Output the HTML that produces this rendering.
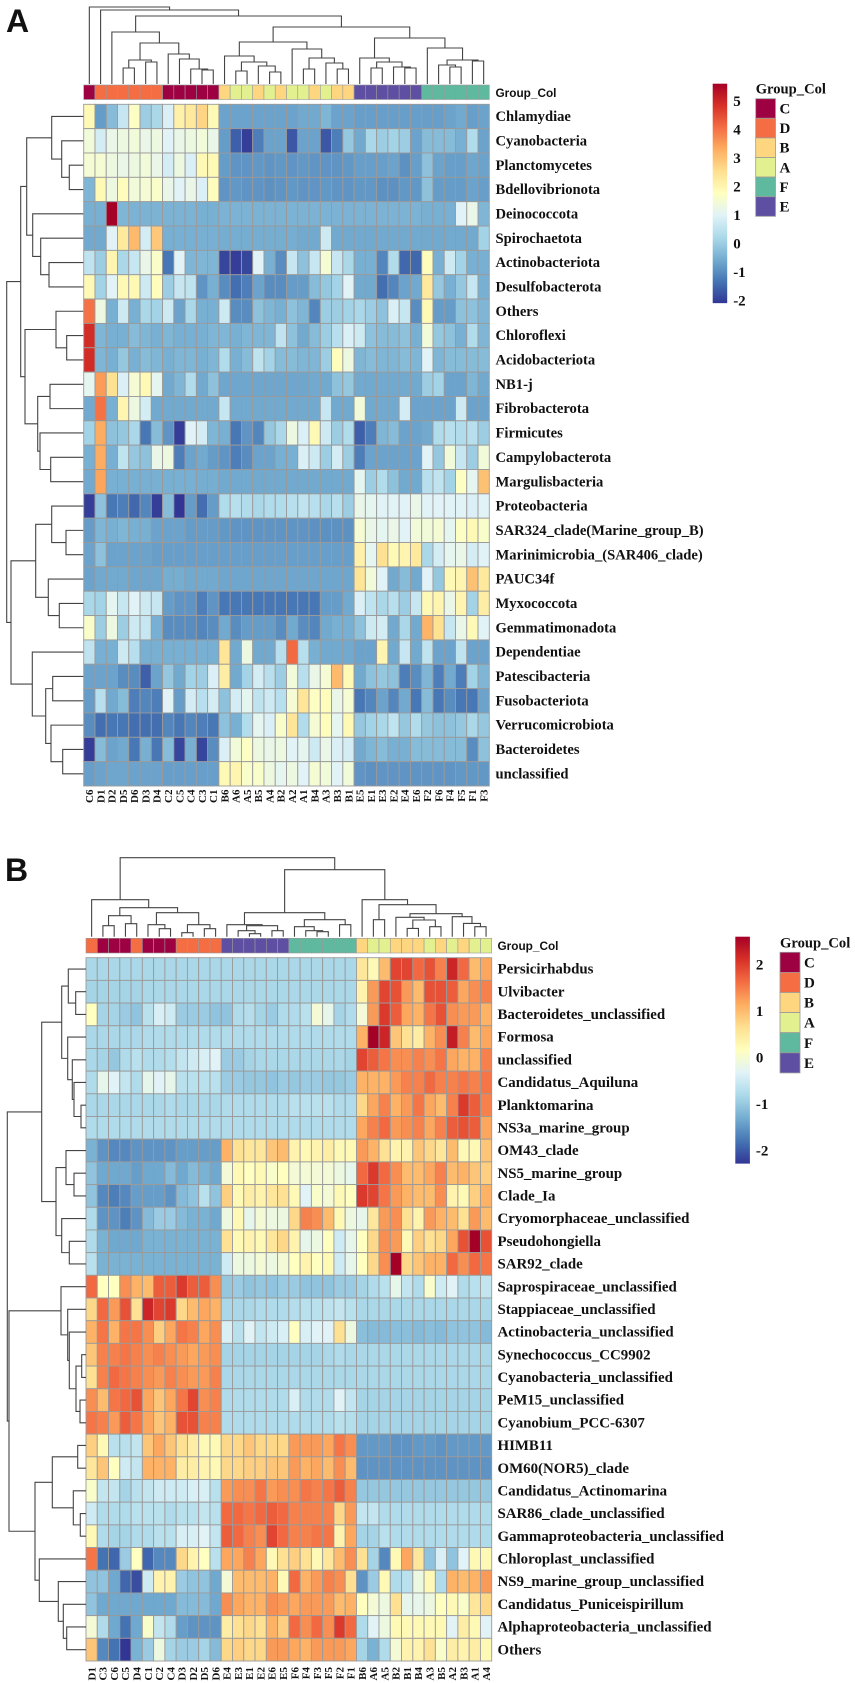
<!DOCTYPE html>
<html lang="en">
<head>
<meta charset="utf-8">
<title>Clustered heatmaps of taxa abundance by group</title>
<style>
html,body{margin:0;padding:0;background:#fff;}
#figure{display:block;width:855px;height:1683px;filter:blur(0.35px);}
text{font-family:"Liberation Serif",serif;font-weight:bold;fill:#111;}
.sans{font-family:"Liberation Sans",sans-serif;}
</style>
</head>
<body>
<svg id="figure" xmlns="http://www.w3.org/2000/svg" width="855" height="1683" viewBox="0 0 855 1683">
  <rect x="0" y="0" width="855" height="1683" fill="#fff"/>
  <text class="sans" x="6" y="32" font-size="32" fill="#000">A</text>
  <text class="sans" x="5" y="881" font-size="32" fill="#000">B</text>
  <g id="panelA"></g>
  <g id="panelB"></g>
</svg>
<script>
// ---------- Panel A data ----------
const colsA = ["C6","D1","D2","D5","D6","D3","D4","C2","C5","C4","C3","C1","B6","A6","A5","B5","A4","B2","A2","A1","B4","A3","B3","B1","E5","E1","E3","E2","E4","E6","F2","F6","F4","F5","F1","F3"];
const rowsA = ["Chlamydiae","Cyanobacteria","Planctomycetes","Bdellovibrionota","Deinococcota","Spirochaetota","Actinobacteriota","Desulfobacterota","Others","Chloroflexi","Acidobacteriota","NB1-j","Fibrobacterota","Firmicutes","Campylobacterota","Margulisbacteria","Proteobacteria","SAR324_clade(Marine_group_B)","Marinimicrobia_(SAR406_clade)","PAUC34f","Myxococcota","Gemmatimonadota","Dependentiae","Patescibacteria","Fusobacteriota","Verrucomicrobiota","Bacteroidetes","unclassified"];
const valuesA = [
[1.9,-0.8,-0.3,0.6,1.7,0.0,0.2,0.9,2.1,2.3,2.7,1.9, -0.7,-0.7,-0.7,-0.7,-0.7,-0.7,-0.7,-0.6,-0.6,-0.4,-0.7,-0.7, -0.75,-0.75,-0.75,-0.75,-0.75,-0.75, -0.75,-0.75,-0.7,-0.6,-0.75,-0.7],
[1.4,0.8,1.2,1.3,1.4,1.2,1.3,1.0,1.2,1.3,1.4,1.2, -0.8,-1.6,-2.0,-1.2,-0.7,-0.7,-1.7,-0.7,-0.7,-1.7,-1.2,-0.1, -0.6,0.2,0.0,0.1,0.0,-0.7, -0.3,-0.3,-0.3,-0.5,0.3,-0.7],
[1.5,1.5,1.3,1.2,1.3,1.4,1.2,0.8,1.3,0.9,1.9,1.9, -0.8,-0.9,-0.9,-0.85,-0.9,-0.85,-0.9,-0.85,-0.9,-0.9,-0.9,-0.85, -0.75,-0.75,-0.75,-0.7,-0.95,-0.75, -0.2,-0.7,-0.75,-0.75,-0.65,-0.7],
[-0.4,1.9,1.3,1.8,1.4,1.5,1.6,1.2,1.0,1.2,0.9,1.8, -0.9,-0.85,-0.9,-0.9,-0.95,-0.9,-0.85,-0.9,-0.9,-0.85,-0.9,-0.9, -0.85,-0.85,-0.95,-0.95,-0.85,-0.85, -0.2,-0.8,-0.8,-0.8,-0.7,-0.75],
[-0.5,-0.5,5.6,-0.4,-0.45,-0.45,-0.45,-0.45,-0.45,-0.45,-0.5,-0.5, -0.45,-0.45,-0.45,-0.45,-0.45,-0.45,-0.45,-0.45,-0.45,-0.45,-0.45,-0.45, -0.45,-0.45,-0.45,-0.45,-0.45,-0.45, -0.5,-0.5,-0.5,1.0,1.2,-0.4],
[-0.6,-0.6,1.0,2.3,3.1,0.8,2.9,-0.5,-0.5,-0.5,-0.5,-0.5, -0.55,-0.55,-0.55,-0.55,-0.55,-0.55,-0.55,-0.6,-0.6,0.7,-0.6,-0.6, -0.6,-0.6,-0.6,-0.6,-0.6,-0.6, -0.6,-0.6,-0.6,-0.6,-0.6,0.1],
[0.5,0.0,2.0,0.2,0.6,1.2,1.6,-1.3,1.0,-0.4,-0.4,-0.4, -1.9,-2.0,-1.9,1.0,-0.5,-1.0,0.6,-0.2,0.6,1.5,0.6,0.2, -0.5,-0.5,-1.1,0.3,-1.5,-1.5, 1.8,-0.5,0.7,0.1,-0.5,-0.5],
[1.9,0.1,1.0,1.9,1.9,0.7,1.8,0.0,0.6,0.5,-0.9,-0.5, -1.0,-1.4,-1.2,-0.7,-1.0,-1.0,-0.8,-0.8,-0.3,-0.1,0.1,1.0, -0.6,-0.6,-1.4,-1.1,-0.7,-0.6, 2.3,-0.1,-0.5,-0.1,0.6,-0.5],
[4.0,1.3,-0.5,0.7,-0.5,0.2,0.1,0.7,-0.7,0.2,-0.5,-0.5, 0.7,-1.0,-1.0,-0.2,-0.4,-0.5,-0.2,-0.4,-1.1,0.0,0.0,0.1, 0.2,0.0,-0.2,0.9,0.6,-1.0, 1.9,-0.8,-0.8,-0.2,-0.2,-0.4],
[4.9,-0.4,-0.5,-0.5,-0.3,-0.4,-0.5,-0.4,-0.5,-0.5,-0.5,-0.4, -0.4,-0.5,-0.4,-0.4,-0.4,0.5,-0.2,-0.6,-0.3,0.0,0.4,0.9, 0.7,-0.2,-0.3,-0.3,-0.2,-0.5, 1.4,-0.1,-0.2,-0.5,0.3,-0.4],
[4.9,-0.4,-0.5,-0.1,-0.5,-0.3,-0.4,-0.5,-0.4,-0.4,-0.5,-0.4, 0.3,-0.5,-0.3,0.5,0.1,-0.3,-0.3,-0.4,-0.4,0.0,1.8,1.3, -0.4,-0.3,-0.4,-0.4,-0.3,-0.4, 1.0,-0.4,-0.3,-0.3,-0.3,-0.3],
[1.1,3.5,2.5,0.9,1.5,1.9,1.1,-0.6,-0.4,0.3,-0.6,-0.2, -0.65,-0.65,-0.65,-0.65,-0.65,-0.65,-0.65,-0.65,-0.6,-0.6,-0.2,-0.1, -0.6,-0.6,-0.6,-0.6,-0.6,-0.6, 0.0,0.1,-0.7,-0.7,-0.4,-0.6],
[-0.6,4.0,-0.5,2.0,1.3,0.8,-0.6,-0.6,-0.6,-0.6,-0.6,-0.6, 0.6,-0.6,-0.6,-0.6,-0.6,-0.6,-0.6,-0.6,-0.6,0.6,-0.6,-0.6, 1.4,-0.6,-0.6,-0.6,0.8,-0.7, -0.7,-0.7,-0.7,0.7,-0.7,-0.7],
[0.1,3.3,-0.2,-0.1,0.2,-1.3,-0.3,-0.9,-2.0,1.0,0.8,-0.4, -0.5,-1.3,-0.9,-1.1,-0.1,0.2,1.3,0.9,1.9,0.7,0.0,0.3, -1.6,-1.2,-0.4,-0.3,-0.7,-0.7, -0.6,0.3,0.4,0.3,0.4,0.0],
[-0.5,3.3,-0.5,0.5,-0.1,-0.2,1.2,1.3,-1.2,-0.7,-0.6,-0.8, -0.9,-1.2,-1.0,-0.7,-0.7,-0.5,-0.5,0.9,0.7,0.0,0.8,0.0, -1.2,-0.7,-0.7,-0.7,-0.7,-0.7, 1.0,-0.1,1.4,0.6,0.0,1.4],
[-0.6,3.4,-0.5,-0.5,-0.5,-0.5,-0.5,-0.5,-0.5,-0.5,-0.55,-0.55, -0.6,-0.6,-0.6,-0.6,-0.6,-0.6,-0.6,-0.6,-0.6,-0.6,-0.6,-0.6, 1.1,0.0,0.3,-0.2,-0.6,-0.6, 0.4,0.5,0.1,1.7,1.1,3.0],
[-2.0,-0.2,-1.3,-1.2,-1.5,-1.1,-2.0,-0.3,-2.1,-0.8,-1.4,-0.8, 0.3,0.4,0.3,0.2,0.3,0.3,0.4,0.5,0.4,0.2,0.4,0.0, 1.2,1.1,1.0,1.0,1.0,1.2, 1.0,1.0,1.0,1.0,0.9,1.0],
[-0.8,-0.4,-0.5,-0.4,-0.5,-0.5,-0.7,-0.7,-0.7,-0.8,-0.8,-0.8, -0.85,-0.9,-0.9,-0.9,-0.9,-0.9,-0.9,-0.9,-0.95,-0.95,-0.95,-0.95, 1.5,1.2,1.1,1.2,1.0,1.4, 1.4,1.5,1.1,1.7,1.9,1.6],
[-0.7,-0.2,-0.7,-0.7,-0.7,-0.7,-0.75,-0.75,-0.75,-0.75,-0.75,-0.75, -0.75,-0.75,-0.75,-0.75,-0.75,-0.75,-0.75,-0.75,-0.75,-0.75,-0.75,-0.75, 2.1,1.1,2.5,1.9,2.0,2.3, 0.2,0.8,1.1,1.2,0.8,1.0],
[-0.7,-0.6,-0.6,-0.6,-0.65,-0.65,-0.65,-0.55,-0.55,-0.6,-0.6,-0.6, -0.65,-0.65,-0.65,-0.65,-0.65,-0.65,-0.65,-0.65,-0.65,-0.65,-0.65,-0.65, 2.4,1.4,1.0,-0.6,-0.3,-0.6, 1.0,-0.1,1.9,2.0,3.0,2.3],
[0.2,0.1,1.1,0.6,1.0,0.7,0.6,-0.8,-0.9,-0.9,-1.2,-0.9, -1.3,-1.3,-1.3,-1.3,-1.3,-1.3,-1.3,-1.3,-1.3,-0.8,-0.8,-0.6, 0.9,0.5,0.2,0.4,0.0,0.6, 1.9,2.0,1.2,2.0,0.1,2.2],
[1.6,0.0,1.3,0.0,0.7,0.6,-0.5,-1.0,-1.0,-1.0,-1.1,-1.0, -0.6,-1.0,-0.8,-0.8,-0.8,-1.0,-0.6,-1.0,-1.1,-0.6,-0.5,-0.5, -0.2,0.7,0.8,-0.6,0.2,-0.6, 3.2,2.5,0.6,1.2,1.9,1.0],
[0.5,-0.5,-0.5,0.7,0.4,-0.5,-0.5,-0.5,-0.5,-0.5,-0.5,-0.5, 2.4,-0.6,1.3,-0.6,-0.6,0.4,4.1,0.4,-0.5,-0.6,-0.6,-0.6, -0.7,-0.7,2.0,-0.6,0.6,-0.6, 0.5,-0.7,-0.7,0.5,-0.7,-0.7],
[-0.7,-0.7,-0.7,-1.0,-1.0,-1.6,-0.7,-0.1,-0.6,0.1,0.0,0.9, 2.2,-0.6,0.1,0.8,0.4,0.0,1.4,0.4,1.2,1.5,3.1,1.9, -0.6,-0.2,-0.1,-0.2,-1.2,-1.0, -0.4,-1.2,-0.6,-1.2,0.1,-0.4],
[-0.8,0.4,-0.6,-0.3,-1.2,-1.1,-1.2,1.0,-0.8,0.8,0.4,0.8, -0.2,0.8,1.1,0.5,0.7,0.4,1.5,2.4,1.7,1.8,1.2,1.5, -1.3,-1.1,-0.7,-1.1,-0.6,-1.3, -0.3,-1.3,-1.0,-1.3,-1.3,-0.7],
[-1.0,-1.4,-1.3,-1.3,-1.4,-1.4,-1.4,-1.1,-1.3,-1.1,-1.2,-1.3, -0.2,-0.5,0.3,1.1,0.9,1.6,2.4,0.3,1.5,1.8,1.1,1.9, -0.1,0.1,0.2,0.5,-0.1,0.3, -0.1,-0.2,-0.2,-0.1,0.2,-0.1],
[-2.0,-0.3,-0.7,-0.6,-1.3,-0.5,-1.3,-0.3,-1.9,-0.5,-1.9,-1.0, 0.9,1.4,1.7,1.3,1.2,1.3,1.0,1.1,0.7,1.2,0.9,0.8, -0.6,-0.4,-0.3,-0.5,-0.5,-0.3, -0.3,-0.3,-0.3,-0.3,-1.0,-0.2],
[-0.75,-0.7,-0.65,-0.65,-0.7,-0.7,-0.7,-0.75,-0.75,-0.75,-0.75,-0.75, 1.9,2.0,1.6,1.6,1.3,1.1,1.3,1.0,1.5,1.4,1.0,1.4, -0.9,-0.95,-0.9,-0.9,-0.9,-0.9, -0.9,-0.9,-0.9,-0.85,-0.85,-0.85]
];
const treeTopA = [77,0,[74,1,[68,[52,2,[41,[24,[16,3,4],[22,5,6]],[30,7,[25,8,[15,9,[14,10,11]]]]]],[57,[42,[28,12,[22,[13,13,14],[18,15,[12,16,17]]]],[35,18,[26,[15,19,20],[21,21,[15,22,23]]]]],[46,[26,24,[22,[16,25,26],[17,27,[16,28,29]]]],[36,30,[24,[19,31,[17,32,33]],[23,34,35]]]]]]]];
const treeLeftA = [76.6,[62.6,[56.6,[31.6,0,[21.6,1,[14,2,3]]],[50.6,4,[42.6,5,[34.3,6,7]]]],[58.3,[27.3,8,[16.6,9,10]],[45.6,[33.3,11,12],[43.3,13,[32.6,14,15]]]]],[72.3,[47.6,[31.6,16,[17.3,17,18]],[35,19,[24,20,21]]],[51,22,[37.6,[30.6,23,24],[32.3,25,[20.6,26,27]]]]]];
const ticksA = [-2,-1,0,1,2,3,4,5];
const domainA = [-2.1,5.6];

// ---------- Panel B data ----------
const colsB = ["D1","C3","C6","C5","D4","C1","C2","C4","D3","D2","D5","D6","E4","E3","E1","E2","E6","E5","F6","F4","F3","F5","F2","F1","B6","A6","A5","B2","B1","B4","A3","B5","A2","B3","A1","A4"];
const rowsB = ["Persicirhabdus","Ulvibacter","Bacteroidetes_unclassified","Formosa","unclassified","Candidatus_Aquiluna","Planktomarina","NS3a_marine_group","OM43_clade","NS5_marine_group","Clade_Ia","Cryomorphaceae_unclassified","Pseudohongiella","SAR92_clade","Saprospiraceae_unclassified","Stappiaceae_unclassified","Actinobacteria_unclassified","Synechococcus_CC9902","Cyanobacteria_unclassified","PeM15_unclassified","Cyanobium_PCC-6307","HIMB11","OM60(NOR5)_clade","Candidatus_Actinomarina","SAR86_clade_unclassified","Gammaproteobacteria_unclassified","Chloroplast_unclassified","NS9_marine_group_unclassified","Candidatus_Puniceispirillum","Alphaproteobacteria_unclassified","Others"];
const valuesB = [
[-1.05,-1.05,-1.05,-1.05,-1.05,-1.05,-1.05,-1.05,-1.05,-1.05,-1.05,-1.05, -1.05,-1.05,-1.05,-1.05,-1.05,-1.05,-1.05,-1.05,-1.05,-1.05,-1.05,-1.05, 0.4,0.1,0.9,1.9,1.9,1.6,1.8,1.4,2.2,1.6,0.9,1.1],
[-1.1,-1.1,-1.1,-1.1,-1.1,-1.05,-1.05,-1.05,-1.05,-1.05,-1.05,-1.05, -1.05,-1.05,-1.05,-1.05,-1.05,-1.05,-1.05,-1.05,-1.05,-1.05,-1.05,-1.05, 0.2,1.2,1.9,1.8,1.2,0.9,1.8,1.8,1.7,1.1,1.3,1.4],
[0.0,-1.1,-1.1,-1.2,-1.3,-0.9,-0.6,-0.7,-1.2,-1.2,-1.2,-1.3, -1.3,-1.0,-0.95,-1.1,-1.2,-1.0,-1.0,-0.9,-0.2,-0.4,-1.1,-1.0, -0.2,1.2,2.0,1.7,1.1,1.0,1.5,1.8,1.3,1.2,1.2,1.0],
[-1.05,-1.05,-1.05,-1.05,-1.05,-1.0,-1.0,-1.0,-1.0,-1.0,-1.0,-1.0, -1.0,-1.0,-1.0,-1.0,-1.0,-1.0,-1.0,-1.0,-1.0,-1.0,-1.0,-1.0, 1.0,2.6,2.2,0.8,0.5,0.3,1.0,1.3,2.3,1.4,0.9,1.1],
[-1.05,-1.1,-1.25,-1.0,-0.9,-1.0,-1.0,-0.95,-0.8,-0.7,-0.6,-0.5, -1.2,-1.2,-1.1,-1.05,-1.05,-1.05,-1.05,-1.05,-1.05,-1.05,-1.05,-1.1, 1.9,1.7,1.5,1.3,1.3,1.4,1.3,1.5,1.1,1.0,1.0,1.4],
[-1.0,-0.4,-0.5,-0.8,-1.0,-0.4,-0.5,-0.4,-0.9,-0.9,-0.9,-0.9, -1.2,-1.2,-1.25,-1.25,-1.3,-1.2,-1.25,-1.2,-1.2,-1.25,-1.25,-1.2, 1.0,1.0,1.0,1.2,1.4,1.4,1.6,1.4,1.4,1.5,1.4,1.5],
[-1.05,-1.05,-1.05,-1.05,-1.05,-1.05,-1.05,-1.0,-1.05,-1.05,-1.05,-1.05, -1.0,-1.0,-1.0,-1.0,-1.0,-1.0,-0.9,-0.9,-0.9,-0.9,-1.0,-1.0, 0.6,1.1,1.4,1.0,1.2,1.5,1.1,0.9,1.4,2.0,1.7,1.4],
[-1.0,-1.0,-1.0,-1.0,-1.0,-1.0,-1.0,-1.0,-1.0,-1.0,-1.0,-1.0, -1.0,-1.0,-1.0,-1.0,-1.0,-1.0,-1.0,-1.0,-1.0,-1.0,-1.0,-1.0, 1.1,1.4,1.6,1.2,1.3,1.4,1.1,1.4,1.7,1.8,1.7,1.1],
[-1.5,-1.8,-1.9,-1.9,-1.8,-1.8,-1.8,-1.8,-1.7,-1.7,-1.7,-1.7, 1.0,0.5,0.4,0.4,0.8,0.9,0.2,0.1,0.2,0.3,0.1,0.1, 1.2,1.0,0.5,0.2,0.2,0.8,0.6,0.4,0.9,0.1,0.1,0.8],
[-1.3,-1.6,-1.6,-1.6,-1.7,-1.6,-1.6,-1.4,-1.6,-1.4,-1.5,-1.6, -0.2,0.1,0.0,0.1,-0.1,0.0,-0.2,-0.2,-0.2,-0.2,-0.3,-0.4, 1.6,2.0,1.6,1.3,0.9,0.9,1.1,1.4,0.9,1.0,0.8,0.7],
[-1.3,-1.9,-2.0,-1.9,-1.7,-1.7,-1.7,-1.8,-1.4,-1.3,-0.9,-1.3, 0.7,0.1,0.3,0.2,0.4,0.5,0.1,-0.5,-0.1,-0.2,0.1,0.0, 2.0,1.9,1.5,1.2,1.0,0.9,0.9,1.3,0.2,0.1,0.7,1.0],
[-1.0,-1.8,-1.8,-2.0,-1.8,-1.4,-1.2,-1.2,-1.4,-1.5,-1.5,-1.6, -0.3,0.1,-0.4,-0.2,-0.3,-0.3,0.6,1.4,1.3,0.9,0.1,-0.3, -0.4,0.4,1.2,1.3,0.5,0.2,1.2,1.0,0.9,0.5,1.2,0.9],
[-1.0,-1.5,-1.6,-1.6,-1.6,-1.5,-1.5,-1.5,-1.5,-1.5,-1.5,-1.5, 0.5,0.1,0.2,0.1,0.4,0.6,0.2,-0.4,-0.3,0.0,-0.7,-0.4, 0.0,0.6,1.3,1.2,0.1,0.7,0.5,0.6,1.1,1.8,2.6,1.8],
[-0.9,-1.5,-1.5,-1.5,-1.5,-1.5,-1.5,-1.5,-1.5,-1.5,-1.5,-1.5, -0.7,-0.3,-0.3,-0.2,-0.3,-0.2,0.0,0.2,0.0,0.1,-0.7,-0.4, 0.0,0.6,1.3,2.6,0.6,0.8,1.0,1.0,1.6,1.3,1.6,1.5],
[1.6,0.0,0.0,1.3,1.0,0.9,1.7,1.7,2.0,1.7,1.7,1.3, -1.25,-1.2,-1.3,-1.25,-1.3,-1.2,-1.2,-1.3,-1.3,-1.3,-1.2,-1.2, -1.1,-1.0,-0.9,-0.4,-0.8,-1.0,-0.1,-0.7,-0.5,-1.0,-0.9,-0.8],
[0.6,1.6,1.2,1.8,0.5,2.2,1.9,2.0,0.6,0.9,1.1,1.0, -1.05,-1.05,-1.05,-1.0,-1.0,-1.0,-0.95,-0.9,-0.9,-0.85,-0.8,-0.9, -1.05,-1.05,-1.05,-1.05,-1.05,-1.05,-1.05,-1.05,-1.05,-1.05,-1.05,-1.05],
[1.0,1.5,1.0,1.5,1.5,1.3,0.7,1.1,1.5,1.4,1.1,1.3, -0.6,-0.9,-0.5,-0.8,-0.7,-0.6,0.0,-0.6,-0.5,-0.5,0.5,-0.3, -1.35,-1.4,-1.4,-1.35,-1.35,-1.4,-1.35,-1.4,-1.3,-1.3,-1.3,-1.4],
[0.8,1.4,1.4,1.5,1.4,1.3,1.4,1.3,1.2,1.1,1.2,1.3, -1.1,-1.1,-1.1,-1.1,-1.1,-1.1,-1.1,-1.1,-1.1,-1.05,-1.0,-1.05, -1.05,-1.05,-1.05,-1.05,-1.05,-1.05,-1.05,-1.05,-1.05,-1.05,-1.05,-1.05],
[0.5,1.4,1.6,1.5,1.4,1.3,1.2,1.4,1.3,1.2,1.2,1.4, -1.05,-1.05,-1.05,-1.05,-1.05,-1.05,-1.05,-1.05,-1.05,-1.05,-1.05,-1.05, -1.05,-1.05,-1.05,-1.05,-1.05,-1.05,-1.05,-1.05,-1.05,-1.05,-1.05,-1.05],
[1.3,0.9,1.5,1.6,1.8,1.1,0.8,1.1,1.5,1.9,1.3,1.4, -1.0,-1.0,-1.0,-1.0,-1.0,-1.0,-0.6,-1.0,-1.0,-1.0,-0.5,-0.8, -1.1,-1.1,-1.1,-1.1,-1.1,-1.1,-1.1,-1.1,-1.1,-1.1,-1.1,-1.1],
[1.5,1.4,1.2,1.7,1.5,1.1,0.8,1.0,1.8,1.8,1.4,1.4, -1.0,-1.0,-1.0,-1.0,-1.0,-1.0,-1.0,-1.0,-1.0,-1.0,-0.9,-0.95, -1.1,-1.1,-1.1,-1.1,-1.1,-1.1,-1.1,-1.1,-1.1,-1.1,-1.1,-1.1],
[0.7,0.1,-0.9,-0.9,-0.8,0.8,1.1,0.8,0.5,0.3,0.1,0.1, 0.6,0.6,0.8,0.6,0.6,0.6,1.2,1.2,1.2,1.1,1.5,1.3, -1.75,-1.75,-1.75,-1.8,-1.8,-1.75,-1.75,-1.8,-1.75,-1.75,-1.75,-1.75],
[0.4,0.8,0.0,-0.7,-0.8,1.0,1.0,1.0,0.3,0.3,0.2,0.1, 0.6,0.6,0.7,0.7,0.8,0.8,1.2,1.0,1.1,0.9,1.3,0.9, -1.8,-1.8,-1.8,-1.8,-1.8,-1.8,-1.8,-1.8,-1.8,-1.8,-1.8,-1.8],
[-0.1,-0.8,-0.8,-1.1,-0.9,-0.8,-0.7,-0.7,-0.7,-0.6,-0.6,-0.9, 1.2,1.3,1.3,1.5,1.2,1.3,1.3,1.5,1.4,1.5,1.7,1.4, -1.25,-1.25,-1.25,-1.25,-1.25,-1.25,-1.25,-1.25,-1.25,-1.25,-1.25,-1.25],
[-0.7,-1.0,-1.0,-1.0,-0.9,-0.9,-0.9,-1.0,-0.9,-0.9,-0.8,-0.9, 1.6,1.6,1.5,1.6,1.7,1.6,1.4,1.4,1.4,1.4,0.6,1.2, -0.8,-0.8,-1.0,-1.0,-1.0,-1.0,-1.0,-1.0,-1.0,-1.0,-1.0,-1.0],
[0.1,-1.0,-1.1,-1.1,-1.0,-1.0,-0.9,-0.9,-0.6,-0.6,-0.5,-0.8, 1.7,1.6,1.4,1.3,1.9,1.6,1.4,1.4,1.5,1.5,0.2,1.1, -1.1,-1.1,-0.9,-1.0,-1.0,-1.0,-1.0,-1.0,-1.0,-1.0,-1.0,-1.0],
[1.5,-2.1,-2.2,-1.2,0.0,-2.2,-1.9,-1.9,0.6,0.2,0.0,-0.9, 1.1,1.1,1.4,1.1,0.1,0.5,0.7,0.5,0.1,0.4,0.9,1.3, 0.5,-1.1,-1.9,0.1,1.1,0.4,-1.3,-0.6,-1.3,-0.5,0.1,0.1],
[-1.3,-1.3,-1.6,-2.2,-2.4,-0.7,0.2,0.2,-1.2,-1.3,-1.3,-1.6, -0.2,0.9,0.9,0.9,1.0,0.1,1.6,1.0,1.2,1.4,1.3,0.5, -1.8,-1.2,0.1,-1.0,-0.9,-0.3,0.1,-1.0,1.0,0.9,1.0,1.2],
[-1.3,-1.6,-1.6,-1.6,-1.6,-1.6,-1.6,-1.6,-1.4,-1.4,-1.4,-1.6, 1.3,1.1,1.0,1.0,1.3,1.2,1.1,1.2,1.2,1.2,0.9,1.0, 0.0,-0.2,-0.3,0.5,-0.4,-0.4,-0.3,0.0,0.1,-0.1,0.4,0.6],
[-0.2,-1.0,-1.6,-2.1,-1.6,-0.1,-0.8,-1.0,-1.7,-1.8,-1.8,-1.8, 0.3,0.5,0.6,0.5,1.0,0.7,1.6,1.3,1.6,1.3,2.0,1.6, -1.0,-0.5,-0.3,0.1,0.1,0.1,0.1,0.1,-0.5,0.3,0.1,-0.5],
[0.8,-1.9,-2.1,-2.6,-1.5,-1.2,-0.3,-1.1,-1.2,-1.2,-1.1,-1.4, 0.6,0.7,0.6,0.6,1.2,1.2,1.1,1.0,1.2,1.2,1.2,1.1, -1.1,-1.5,-1.0,-0.2,0.2,0.2,0.5,-0.1,0.3,0.2,0.3,0.1]
];
const treeTopB = [79,[37,0,[29,[21,[11,1,2],[13,3,4]],[24,[12,5,[8,6,7]],[12,[4,8,9],[8,10,11]]]]],[67,[24,[12,12,[11,[6,13,[3,14,15]],[6,16,17]]],[17,[10,18,[6,19,[5,20,21]]],[12,22,23]]],[37,24,[32,[17,25,26],[23,[19.4,27,[16.7,[8.3,28,29],[10,30,31]]],[20,32,[13.3,33,[10,34,35]]]]]]]];
const treeLeftB = [78.7,[44.3,[24.3,[17.7,0,[10.3,1,2]],[18.3,3,[13.7,4,[12,5,[5,6,7]]]]],[30,[20,8,[12,9,10]],[24.3,11,[16.7,12,13]]]],[77,[25,14,[18.3,15,[16.7,16,[10,[4.3,17,18],[6,19,20]]]]],[51,[33.7,[8.3,21,22],[12.7,23,[5.7,24,25]]],[46.7,26,[27.7,27,[22.7,28,[19.3,29,30]]]]]]];
const ticksB = [-2,-1,0,1,2];
const domainB = [-2.6,2.6];

// ---------- Shared ----------
const legendGroups = ["C","D","B","A","F","E"];
const groupFill = {C:"#9E0142",D:"#F46D43",B:"#FDD67F",A:"#E3F08F",F:"#5FB99F",E:"#5E4FA2"};
const ramp = ["#313695","#4575B4","#74ADD1","#ABD9E9","#E0F3F8","#FFFFBF","#FEE090","#FDAE61","#F46D43","#D73027","#A50026"];
const SVGNS = "http://www.w3.org/2000/svg";
const GRID = "#9a9a9a";
const DENDRO = "#444";

function make(parent, tag, attrs, txt){
  const el = document.createElementNS(SVGNS, tag);
  for (const k in attrs) el.setAttribute(k, attrs[k]);
  if (txt !== undefined) el.textContent = txt;
  parent.appendChild(el);
  return el;
}
function hex(c){ return [1,3,5].map(i => parseInt(c.substr(i,2),16)); }
function colorFor(v, domain){
  let t = (v - domain[0]) / (domain[1] - domain[0]);
  t = Math.max(0, Math.min(1, t)) * (ramp.length - 1);
  const i = Math.min(ramp.length - 2, Math.floor(t));
  const a = hex(ramp[i]), b = hex(ramp[i+1]), f = t - i;
  return "rgb(" + a.map((x,k) => Math.round(x + (b[k]-x)*f)).join(",") + ")";
}
function drawTree(parent, node, leafPos, heightPos, segment){
  if (typeof node === "number") return {p: leafPos(node), h: 0};
  const a = drawTree(parent, node[1], leafPos, heightPos, segment);
  const b = drawTree(parent, node[2], leafPos, heightPos, segment);
  const path = make(parent, "path", {d: segment(a, b, node[0]), fill:"none", stroke:DENDRO, "stroke-width":1.1});
  
  
  return {p: (a.p + b.p) / 2, h: node[0]};
}

function drawPanel(root, cfg){
  const nC = cfg.cols.length, nR = cfg.rows.length;
  const xPos = c => cfg.x0 + c * (cfg.x1 - cfg.x0) / nC;
  const yPos = r => cfg.y0 + r * (cfg.y1 - cfg.y0) / nR;
  const cw = (cfg.x1 - cfg.x0) / nC, ch = (cfg.y1 - cfg.y0) / nR;

  // heat cells
  const cells = make(root, "g", {});
  
  
  cfg.values.forEach((row, r) => {
    row.forEach((v, c) => {
      const cell = make(cells, "rect", {x:xPos(c), y:yPos(r), width:cw, height:ch, fill:colorFor(v, cfg.domain), stroke:GRID, "stroke-width":0.9});
      
      
    });
  });

  // annotation strip
  cfg.cols.forEach((name, c) => {
    const ann = make(root, "rect", {x:xPos(c), y:cfg.annY, width:cw, height:cfg.annH, fill:groupFill[name[0]], stroke:GRID, "stroke-width":0.6});
    
    
  });
  const annTitle = make(root, "text", {x:cfg.labelX, y:cfg.annY + cfg.annH/2 + 4.5, "font-size":11.8, class:"sans"}, "Group_Col");
  
  

  // row labels
  cfg.rows.forEach((name, r) => {
    const t = make(root, "text", {x:cfg.labelX, y:yPos(r) + ch/2 + 4.6, "font-size":cfg.rowFont}, name);
    
    
  });

  // column labels (rotated, reading upward)
  cfg.cols.forEach((name, c) => {
    const x = xPos(c) + cw/2 + 3.8;
    const t = make(root, "text", {x:x, y:cfg.colLabelY, "font-size":11, "text-anchor":"end", transform:"rotate(-90 " + x + " " + cfg.colLabelY + ")"}, name);
    
    
  });

  // dendrograms
  const dTop = make(root, "g", {});
  
  
  const topY = h => cfg.topBase - h;
  drawTree(dTop, cfg.treeTop, c => xPos(c) + cw/2, topY, (a,b,h) =>
    "M"+a.p+" "+topY(a.h)+"L"+a.p+" "+topY(h)+"L"+b.p+" "+topY(h)+"L"+b.p+" "+topY(b.h));
  const dLeft = make(root, "g", {});
  
  
  const leftX = h => cfg.leftBase - h;
  drawTree(dLeft, cfg.treeLeft, r => yPos(r) + ch/2, leftX, (a,b,h) =>
    "M"+leftX(a.h)+" "+a.p+"L"+leftX(h)+" "+a.p+"L"+leftX(h)+" "+b.p+"L"+leftX(b.h)+" "+b.p);

  // colour bar
  const barY = v => cfg.barZeroY - v * cfg.barUnit;
  const gradId = cfg.id + "-ramp";
  const defs = make(root, "defs", {});
  const grad = make(defs, "linearGradient", {id:gradId, x1:0, y1:1, x2:0, y2:0});
  ramp.forEach((col, i) => make(grad, "stop", {offset: i/(ramp.length-1), "stop-color": col}));
  const bar = make(root, "rect", {x:cfg.barX, y:barY(cfg.barMax), width:cfg.barW, height:barY(cfg.barMin)-barY(cfg.barMax), fill:"url(#"+gradId+")"});
  
  
  cfg.ticks.forEach(v => {
    const t = make(root, "text", {x:cfg.barX + cfg.barW + 6, y:barY(v) + 5, "font-size":15}, String(v));
    
    
  });

  // group legend
  const lgTitle = make(root, "text", {x:cfg.legX, y:cfg.legY - 5, "font-size":14.6}, "Group_Col");
  
  
  legendGroups.forEach((g, i) => {
    const sw = make(root, "rect", {x:cfg.legX, y:cfg.legY + i*cfg.legStep, width:cfg.legW, height:cfg.legStep, fill:groupFill[g], stroke:GRID, "stroke-width":0.8});
    
    
    const t = make(root, "text", {x:cfg.legX + cfg.legW + 4, y:cfg.legY + (i+.5)*cfg.legStep + 5, "font-size":15}, g);
    
    
  });
}

drawPanel(document.getElementById("panelA"), {
  id:"a", cols:colsA, rows:rowsA, values:valuesA, domain:domainA, ticks:ticksA,
  treeTop:treeTopA, treeLeft:treeLeftA,
  x0:83.7, x1:489.3, y0:104.3, y1:786,
  annY:85, annH:14.5, labelX:495.5, rowFont:14.6, colLabelY:789.5,
  topBase:84, leftBase:83.3,
  barX:712.7, barW:14.5, barZeroY:243.3, barUnit:28.5, barMin:-2.1, barMax:5.6,
  legX:755.7, legY:98.7, legW:19.8, legStep:19.6
});
drawPanel(document.getElementById("panelB"), {
  id:"b", cols:colsB, rows:rowsB, values:valuesB, domain:domainB, ticks:ticksB,
  treeTop:treeTopB, treeLeft:treeLeftB,
  x0:86, x1:491.7, y0:957.7, y1:1661,
  annY:938.3, annH:14.7, labelX:497.5, rowFont:14.9, colLabelY:1667,
  topBase:936.7, leftBase:86,
  barX:735.3, barW:14.6, barZeroY:1057.6, barUnit:46.5, barMin:-2.28, barMax:2.6,
  legX:780, legY:952.3, legW:20, legStep:20.1
});
</script>
</body>
</html>
